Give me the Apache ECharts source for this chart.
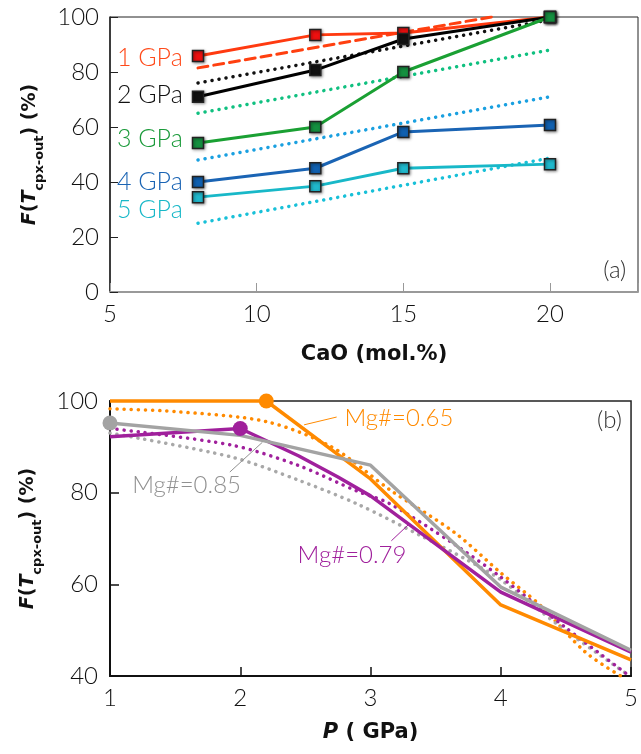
<!DOCTYPE html>
<html>
<head>
    <meta charset="UTF-8">
    <title>F(Tcpx-out) vs CaO and P</title>
    <script src="https://cdn.jsdelivr.net/npm/echarts@6/dist/echarts.min.js"></script>
    <style>body{margin:0;background:#fff;}</style>
</head>
<body>
    <div id="main" style="width: 641px;height:754px;"></div>
    <script type="text/javascript">
        // panel (a): F vs CaO
        var caoX = [8, 12, 15, 20];
        var f1GPa = [85.8, 93.5, 94.2, 100];
        var f2GPa = [71, 80.7, 92, 100];
        var f3GPa = [54.2, 60, 80, 100];
        var f4GPa = [40, 45, 58.2, 60.7];
        var f5GPa = [34.5, 38.5, 45, 46.5];
        // fitted trends (dashed / dotted)
        var fit1X = [8, 18], fit1 = [81.5, 100];
        var fitX = [8, 20];
        var fit2 = [76, 99];
        var fit3 = [65, 88];
        var fit4 = [48, 71];
        var fit5 = [25, 48.7];
        var gpaLabels = ['1 GPa', '2 GPa', '3 GPa', '4 GPa', '5 GPa'];

        // panel (b): F vs P
        var p65X = [1, 2.2, 3, 4, 5];
        var f65 = [100, 100, 83, 55.5, 43.5];
        var p79X = [1, 2, 2.45, 2.75, 3, 4, 5];
        var f79 = [92.2, 94, 88, 83.4, 79.3, 58.3, 45.2];
        var p85X = [1, 2, 3, 4, 5];
        var f85 = [95.2, 92.5, 86, 59.4, 45.6];
        var c65X = [1, 1.5, 2.2, 2.7, 3.15, 3.65, 4, 4.3, 4.65, 4.92];
        var c65 = [98.3, 97.7, 95.5, 90, 80.6, 71.2, 62.5, 55.5, 45.2, 40];
        var c79X = [1, 1.93, 2.44, 2.9, 3.14, 3.63, 3.98, 4.5, 4.96];
        var c79 = [94, 90.4, 86, 80.3, 77.7, 69, 62, 50.5, 40.6];
        var c85X = [1, 1.93, 2.44, 2.9, 3.4, 3.73, 4, 4.46, 4.96];
        var c85 = [93, 87.8, 82.8, 77.5, 70.4, 65.5, 61, 50.7, 40.6];

        var myChart = echarts.init(document.getElementById('main'));

        function pts(xs, ys) {
            return xs.map(function (x, i) { return [x, ys[i]]; });
        }

        var tickFont = { fontFamily: 'Lato', fontWeight: 300, fontSize: 24, color: '#111' };
        var nameFont = { fontFamily: 'DejaVu Sans', fontWeight: 'bold', fontSize: 19, color: '#111' };
        // F(T_cpx-out) (%) with a lowered subscript
        var yName = '{i|F}{n|(}{i|T}{s|cpx-out}{n|) (%)}';
        var yNameStyle = Object.assign({}, nameFont, {
            lineHeight: 32,
            rich: {
                i: { fontFamily: 'DejaVu Sans', fontWeight: 'bold', fontStyle: 'italic', fontSize: 19, color: '#111', lineHeight: 32, verticalAlign: 'middle' },
                n: { fontFamily: 'DejaVu Sans', fontWeight: 'bold', fontSize: 19, color: '#111', lineHeight: 32, verticalAlign: 'middle' },
                s: { fontFamily: 'DejaVu Sans', fontWeight: 'bold', fontSize: 13, color: '#111', lineHeight: 14, verticalAlign: 'bottom' }
            }
        });

        function fitLine(xs, ys, color, dash) {
            return {
                type: 'line', xAxisIndex: 0, yAxisIndex: 0,
                data: pts(xs, ys), symbol: 'none', silent: true,
                lineStyle: { color: color, width: dash ? 3 : 3.5, type: dash ? [10, 6] : [0.1, 7], cap: 'round' }
            };
        }

        function gpaLine(ys, idx, color, fill, textColor, dy) {
            return {
                type: 'line', xAxisIndex: 0, yAxisIndex: 0,
                data: pts(caoX, ys), clip: false,
                symbol: 'rect', symbolSize: 11,
                lineStyle: { color: color, width: 3 },
                itemStyle: { color: fill, borderColor: '#222', borderWidth: 1.5,
                    shadowBlur: 3, shadowColor: 'rgba(0,0,0,0.45)', shadowOffsetX: 1, shadowOffsetY: 1 },
                label: {
                    show: true, position: 'left', distance: 9, offset: [0, dy],
                    fontFamily: 'Lato', fontWeight: 300, fontSize: 25, color: textColor,
                    formatter: function (p) { return p.dataIndex === 0 ? gpaLabels[idx] : ''; }
                }
            };
        }

        function curve(xs, ys, color) {
            return {
                type: 'line', xAxisIndex: 1, yAxisIndex: 1,
                data: pts(xs, ys), symbol: 'none', smooth: 0.3, silent: true,
                lineStyle: { color: color, width: 3.5, type: [0.1, 7], cap: 'round' }
            };
        }

        function mgLine(xs, ys, color, markIdx) {
            return {
                type: 'line', xAxisIndex: 1, yAxisIndex: 1,
                data: pts(xs, ys), clip: false,
                symbol: 'circle', symbolSize: function (v, p) { return p.dataIndex === markIdx ? 15 : 0; },
                showAllSymbol: true,
                lineStyle: { color: color, width: 3.5 },
                itemStyle: { color: color }
            };
        }

        var option = {
            animation: false,
            grid: [
                { left: 110, top: 17, width: 529, height: 275, show: true, borderColor: '#222', borderWidth: 1 },
                { left: 110, top: 401, width: 528, height: 275, show: true, borderColor: '#222', borderWidth: 1.5 }
            ],
            xAxis: [
                {
                    type: 'value', gridIndex: 0, min: 5, max: 23, interval: 5,
                    name: 'CaO (mol.%)', nameLocation: 'middle', nameGap: 52, nameTextStyle: Object.assign({}, nameFont, { fontSize: 21 }),
                    axisLine: { lineStyle: { color: '#999', width: 2 } },
                    axisTick: { inside: true, length: 9, lineStyle: { color: '#999' } },
                    axisLabel: Object.assign({ margin: 10, formatter: function (v) { return v % 5 === 0 ? v : ''; } }, tickFont),
                    splitLine: { show: false }
                },
                {
                    type: 'value', gridIndex: 1, min: 1, max: 5, interval: 1,
                    name: '{i|P} ( GPa)', nameLocation: 'middle', nameGap: 46,
                    nameTextStyle: Object.assign({}, nameFont, { fontSize: 21, rich: { i: { fontFamily: 'DejaVu Sans', fontWeight: 'bold', fontStyle: 'italic', fontSize: 21, color: '#111' } } }),
                    axisLine: { lineStyle: { color: '#111', width: 2 } },
                    axisTick: { inside: true, length: 9, lineStyle: { color: '#111', width: 1.5 } },
                    axisLabel: Object.assign({ margin: 10 }, tickFont),
                    splitLine: { show: false }
                }
            ],
            yAxis: [
                {
                    type: 'value', gridIndex: 0, min: 0, max: 100, interval: 20,
                    name: yName, nameLocation: 'middle', nameRotate: 90, nameGap: 64, nameTextStyle: yNameStyle,
                    axisLine: { lineStyle: { color: '#222', width: 1.5 } },
                    axisTick: { inside: true, length: 8, lineStyle: { color: '#222' } },
                    axisLabel: Object.assign({ margin: 11 }, tickFont),
                    splitLine: { show: false }
                },
                {
                    type: 'value', gridIndex: 1, min: 40, max: 100, interval: 20,
                    name: yName, nameLocation: 'middle', nameRotate: 90, nameGap: 66, nameTextStyle: yNameStyle,
                    axisLine: { lineStyle: { color: '#111', width: 2 } },
                    axisTick: { inside: true, length: 9, lineStyle: { color: '#111', width: 1.5 } },
                    axisLabel: Object.assign({ margin: 12 }, tickFont),
                    splitLine: { show: false }
                }
            ],
            series: [
                fitLine(fit1X, fit1, '#ff4010', true),
                fitLine(fitX, fit2, '#111111', false),
                fitLine(fitX, fit3, '#10c080', false),
                fitLine(fitX, fit4, '#1aa0e0', false),
                fitLine(fitX, fit5, '#18c0d8', false),
                gpaLine(f1GPa, 0, '#ff3a10', '#ee1010', '#ff4a1a', 2),
                gpaLine(f2GPa, 1, '#000000', '#111111', '#111111', -2),
                gpaLine(f4GPa, 3, '#1a64b4', '#1060b0', '#1a64b4', 0),
                gpaLine(f5GPa, 4, '#18b8c8', '#20b8cc', '#18b8c8', 13),
                gpaLine(f3GPa, 2, '#1aa033', '#159040', '#1a9a3a', -4),
                curve(c65X, c65, '#ff8a00'),
                curve(c85X, c85, '#a8a8a8'),
                curve(c79X, c79, '#a0209c'),
                mgLine(p65X, f65, '#ff8a00', 1),
                mgLine(p79X, f79, '#a0209c', 1),
                mgLine(p85X, f85, '#a3a3a3', 0)
            ]
        };

        myChart.setOption(option);

        // annotations placed through the axes
        function px(g, x, y) { return myChart.convertToPixel({ gridIndex: g }, [x, y]); }
        function note(g, x, y, text, color, align) {
            var p = px(g, x, y);
            return { type: 'text', x: p[0], y: p[1], z: 50,
                style: { text: text, fill: color, font: '300 24px Lato', textAlign: align || 'left', textVerticalAlign: 'middle' } };
        }
        function leader(g, a, b, color) {
            var p1 = px(g, a[0], a[1]), p2 = px(g, b[0], b[1]);
            return { type: 'line', z: 50, shape: { x1: p1[0], y1: p1[1], x2: p2[0], y2: p2[1] },
                style: { stroke: color, lineWidth: 1 } };
        }

        myChart.setOption({
            graphic: [
                note(0, 22.6, 8, '(a)', '#333', 'right'),
                note(1, 4.93, 95.8, '(b)', '#333', 'right'),
                note(1, 2.8, 96.3, 'Mg#=0.65', '#ff8a00'),
                leader(1, [2.49, 94.8], [2.74, 96.5], '#ff8a00'),
                note(1, 1.17, 81.7, 'Mg#=0.85', '#909090'),
                leader(1, [1.92, 84.5], [2.17, 91], '#909090'),
                note(1, 2.44, 66.4, 'Mg#=0.79', '#a0209c'),
                leader(1, [3.16, 69.5], [3.29, 73], '#a0209c')
            ]
        });
    </script>
</body>
</html>
